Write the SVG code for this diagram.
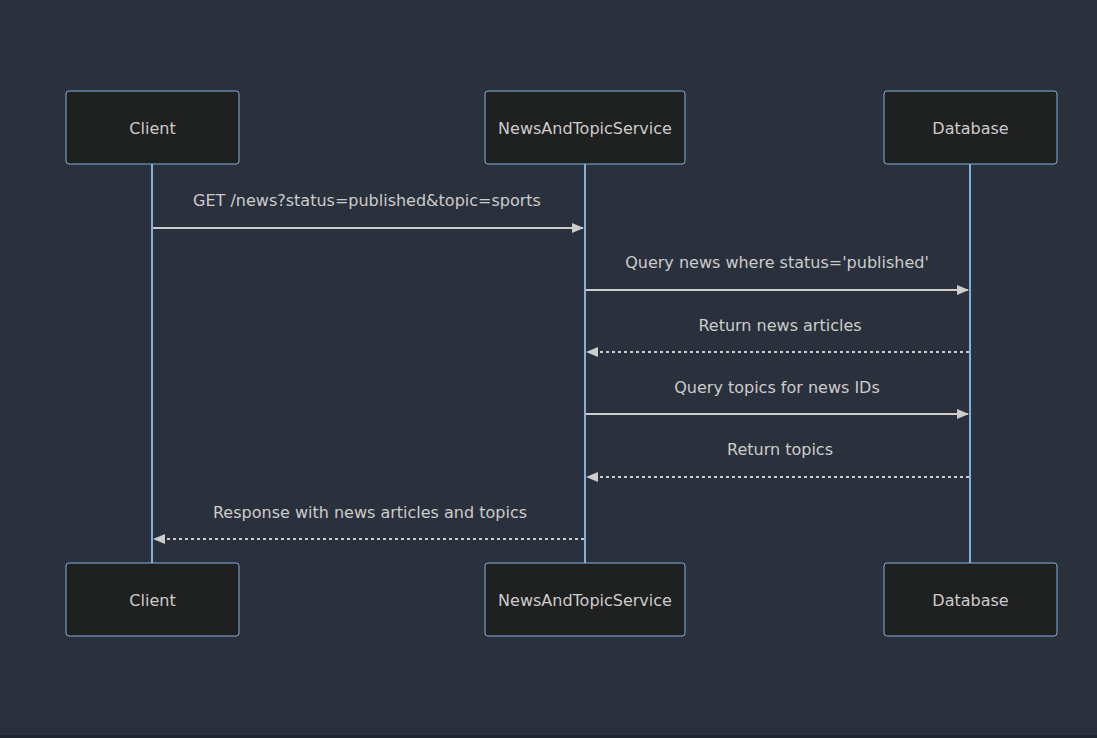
<svg xmlns="http://www.w3.org/2000/svg" width="1097" height="738" viewBox="0 0 1097 738">
  <style>
    .actor rect { fill: #1f2020; stroke: #81b1db; stroke-width: 1; }
    .actor text { fill: #cccccc; font-family: "DejaVu Sans", Verdana, sans-serif; font-size: 16px; text-anchor: middle; dominant-baseline: central; }
    .lifeline { stroke: #81b1db; stroke-width: 2; }
    .msg { stroke: #cccccc; stroke-width: 2; fill: none; }
    .dashed { stroke-dasharray: 3 3; }
    .label { fill: #cccccc; font-family: "DejaVu Sans", Verdana, sans-serif; font-size: 16px; text-anchor: middle; dominant-baseline: central; }
  </style>
  <defs>
    <marker id="arrowhead" viewBox="0 0 12 10" refX="11" refY="5" markerWidth="12" markerHeight="10" markerUnits="userSpaceOnUse" orient="auto">
      <path d="M0,0 L12,5 L0,10 z" fill="#cccccc"/>
    </marker>
  </defs>
  <rect width="1097" height="738" fill="#2a303c"/>
  <rect y="735" width="1097" height="3" fill="#21252e"/>

  <!-- lifelines -->
  <g id="lifelines">
    <line class="lifeline" x1="152" y1="164" x2="152" y2="563"/>
    <line class="lifeline" x1="585" y1="164" x2="585" y2="563"/>
    <line class="lifeline" x1="970" y1="164" x2="970" y2="563"/>
  </g>

  <!-- participants, top -->
  <g id="client-top" class="actor">
    <rect x="66" y="91" width="173" height="73" rx="3"/>
    <text x="152.5" y="128">Client</text>
  </g>
  <g id="service-top" class="actor">
    <rect x="485" y="91" width="200" height="73" rx="3"/>
    <text x="585" y="128">NewsAndTopicService</text>
  </g>
  <g id="database-top" class="actor">
    <rect x="884" y="91" width="173" height="73" rx="3"/>
    <text x="970.5" y="128">Database</text>
  </g>

  <!-- participants, bottom -->
  <g id="client-bottom" class="actor">
    <rect x="66" y="563" width="173" height="73" rx="3"/>
    <text x="152.5" y="600">Client</text>
  </g>
  <g id="service-bottom" class="actor">
    <rect x="485" y="563" width="200" height="73" rx="3"/>
    <text x="585" y="600">NewsAndTopicService</text>
  </g>
  <g id="database-bottom" class="actor">
    <rect x="884" y="563" width="173" height="73" rx="3"/>
    <text x="970.5" y="600">Database</text>
  </g>

  <!-- messages -->
  <g id="connectors">
    <line class="msg" x1="153" y1="228" x2="583" y2="228" marker-end="url(#arrowhead)"/>
    <line class="msg" x1="586" y1="290" x2="968" y2="290" marker-end="url(#arrowhead)"/>
    <line class="msg dashed" x1="969" y1="352" x2="587" y2="352" marker-end="url(#arrowhead)"/>
    <line class="msg" x1="586" y1="414" x2="968" y2="414" marker-end="url(#arrowhead)"/>
    <line class="msg dashed" x1="969" y1="477" x2="587" y2="477" marker-end="url(#arrowhead)"/>
    <line class="msg dashed" x1="584" y1="539" x2="154" y2="539" marker-end="url(#arrowhead)"/>
  </g>

  <g id="message-labels">
    <text class="label" x="367" y="200">GET /news?status=published&amp;topic=sports</text>
    <text class="label" x="777" y="262">Query news where status='published'</text>
    <text class="label" x="780" y="325">Return news articles</text>
    <text class="label" x="777" y="387">Query topics for news IDs</text>
    <text class="label" x="780" y="449">Return topics</text>
    <text class="label" x="370" y="512">Response with news articles and topics</text>
  </g>
</svg>
